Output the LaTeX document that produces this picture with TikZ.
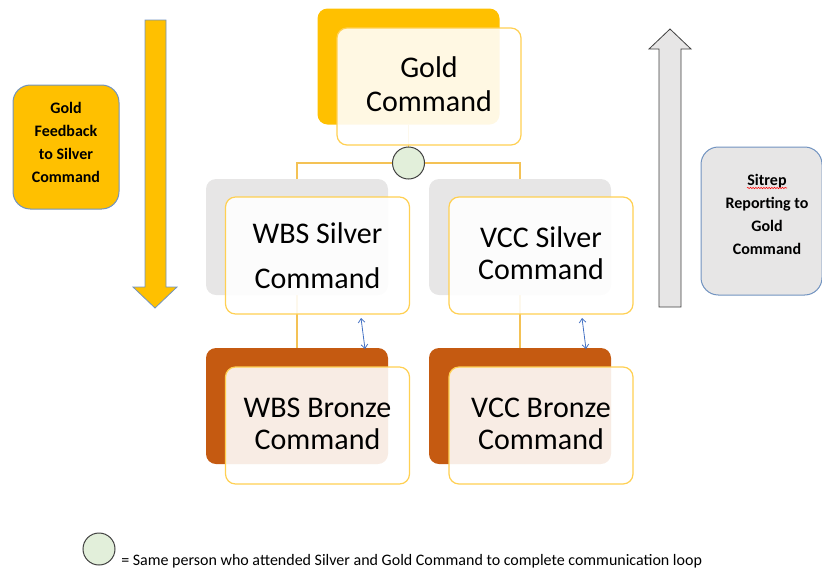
\documentclass[tikz,border=0pt]{standalone}
\usepackage{fontspec}
\setmainfont{Carlito}
\usetikzlibrary{arrows.meta,decorations.pathmorphing}
\definecolor{gold}{HTML}{FFC000}
\definecolor{goldline}{HTML}{F4C255}
\definecolor{frontedge}{HTML}{FFD052}
\definecolor{silverbg}{HTML}{E7E6E6}
\definecolor{bronze}{HTML}{C55A11}
\definecolor{hubfill}{HTML}{E2EFDA}
\definecolor{hubedge}{HTML}{404040}
\definecolor{calloutedge}{HTML}{7193C0}
\definecolor{linkblue}{HTML}{4472C4}
\pgfdeclarelayer{bg}
\pgfsetlayers{bg,main}
\begin{document}
\begin{tikzpicture}[x=0.75pt,y=-0.75pt,
  backbox/.style={rounded corners=7.5pt, minimum width=136.5pt, minimum height=87pt, inner sep=0pt},
  frontbox/.style={draw=frontedge, line width=0.9pt, fill=white, fill opacity=0.89, text opacity=1,
    rounded corners=7.5pt, minimum width=138pt, minimum height=87.75pt, inner sep=0pt, align=center},
  hubstyle/.style={circle, minimum size=24pt, inner sep=0pt, fill=hubfill, draw=hubedge, line width=0.75pt},
  tie/.style={draw=goldline, line width=0.9pt},
  linkarrow/.style={draw=linkblue, line width=0.6pt, {Straight Barb[length=3pt,width=5pt]}-{Straight Barb[length=3pt,width=5pt]}},
  calloutbox/.style={rounded corners=13pt, draw=calloutedge, line width=0.75pt, inner sep=0pt},
  callouttext/.style={align=center, inner sep=0pt, font=\bfseries\fontsize{12}{17.25}\selectfont}
]
\useasboundingbox (0,0) rectangle (822,569);

% back boxes
\node[backbox, fill=gold] (goldback) at (408.5,66.5) {};
\node[backbox, fill=silverbg] (wbssback) at (297,237) {};
\node[backbox, fill=silverbg] (vccsback) at (520,237) {};
\node[backbox, fill=bronze] (wbsbback) at (297,406) {};
\node[backbox, fill=bronze] (vccbback) at (520,406) {};

% hub
\node[hubstyle] (hub) at (408.5,163) {};

% front boxes
\node[frontbox, font=\fontsize{22.5}{25.5}\selectfont] (goldfront) at (429,86.5) {Gold\\Command\\[-22pt]};
\node[frontbox, font=\fontsize{22.5}{33.75}\selectfont] (wbssfront) at (317.5,255.5) {WBS Silver\\Command};
\node[frontbox, font=\fontsize{22.5}{24}\selectfont] (vccsfront) at (541,255.5) {VCC Silver\\Command\\[-21pt]};
\node[frontbox, font=\fontsize{22.5}{24}\selectfont] (wbsbfront) at (317.5,425.5) {WBS Bronze\\Command\\[-21pt]};
\node[frontbox, font=\fontsize{22.5}{24}\selectfont] (vccbfront) at (541,425.5) {VCC Bronze\\Command\\[-21pt]};

% connectors behind
\begin{pgfonlayer}{bg}
\draw[tie] (goldback.south) -- (hub.north);
\draw[tie] (hub.west) -| (wbssback.north);
\draw[tie] (hub.east) -| (vccsback.north);
\draw[tie] (wbssback.south) -- (wbsbback.north);
\draw[tie] (vccsback.south) -- (vccbback.north);
\end{pgfonlayer}

% blue double arrows
\coordinate (wl1) at (361,318);
\coordinate (wl2) at (365,349);
\coordinate (vl1) at (582,318);
\coordinate (vl2) at (586,349);
\draw[linkarrow] (wl1) -- (wl2);
\draw[linkarrow] (vl1) -- (vl2);

% big arrows
\path[draw=calloutedge, fill=gold, line width=0.6pt]
  (145,20) -- (166,20) -- (166,287) -- (177,287) -- (155,308) -- (133,287) -- (145,287) -- cycle;
\path[draw=hubedge, fill=silverbg, line width=0.6pt]
  (659,307) -- (681,307) -- (681,49) -- (691,49) -- (670,29) -- (649,49) -- (659,49) -- cycle;

% callouts
\node[calloutbox, fill=gold, minimum width=79.5pt, minimum height=93pt] (feedbackbox) at (66,147) {};
\node[callouttext] (feedbacktext) at (66,142) {Gold\\Feedback\\to Silver\\Command};
\node[calloutbox, fill=silverbg, minimum width=90.75pt, minimum height=111pt] (sitrepbox) at (761.5,221) {};
\node[callouttext] (sitreptext) at (767,214) {Sitrep\\Reporting to\\Gold\\Command};
\draw[red, line width=0.4pt, decorate, decoration={snake, amplitude=0.5pt, segment length=2pt}] (747,188) -- (787,188);

% legend
\node[hubstyle] (legendhub) at (99,549) {};
\node[anchor=base west, inner sep=0pt, font=\fontsize{12}{14}\selectfont] (legendtext) at (121,565)
  {= Same person who attended Silver and Gold Command to complete communication loop};
\end{tikzpicture}
\end{document}
